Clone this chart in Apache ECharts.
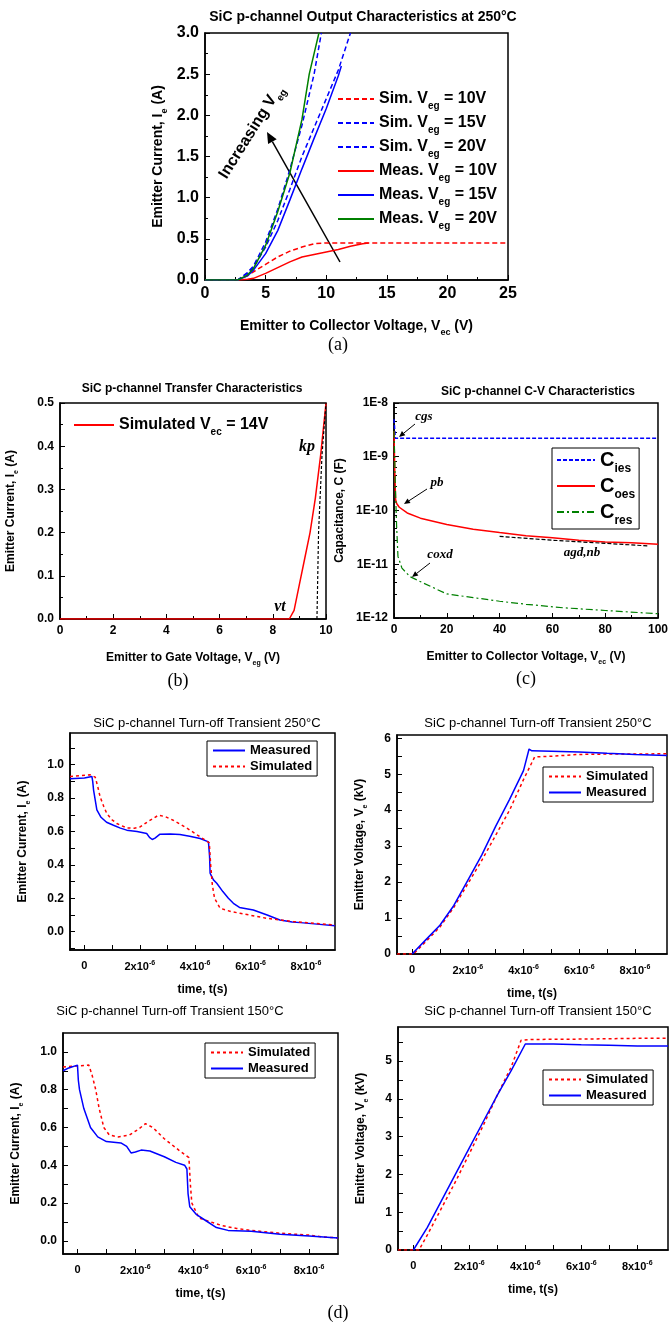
<!DOCTYPE html>
<html>
<head>
<meta charset="utf-8">
<script src="https://cdn.jsdelivr.net/npm/echarts@6/dist/echarts.min.js"></script>
<style>
  html, body { margin: 0; padding: 0; background: #fff; }
  #main { width: 671px; height: 1326px; }
</style>
</head>
<body>
<div id="main"></div>
<script>
// (a) output characteristics, [Vec, Ie]
var aSim10 = [[0,0],[2.7,0],[3.5,0.05],[4,0.1],[5,0.19],[6,0.28],[7,0.35],[8,0.4],[9,0.44],[10,0.45],[25,0.45]];
var aSim15 = [[0,0],[2.7,0],[3.5,0.08],[4,0.15],[5,0.4],[6,0.72],[7,1.1],[8,1.5],[9,1.85],[10,2.2],[11,2.55],[12,3.0]];
var aSim20 = [[0,0],[2.7,0],[3.5,0.09],[4,0.17],[5,0.46],[6,0.86],[7,1.34],[8,1.88],[9,2.5],[9.6,3.0]];
var aMeas10 = [[0,0],[2.8,0],[3.5,0.01],[4,0.02],[5,0.08],[6,0.15],[7,0.22],[8,0.28],[9,0.31],[10,0.34],[11,0.37],[12,0.41],[13,0.44],[13.5,0.45]];
var aMeas15 = [[0,0],[2.7,0],[3.5,0.05],[4,0.12],[5,0.32],[6,0.6],[7,0.97],[8,1.35],[9,1.72],[10,2.08],[11,2.48],[11.25,2.6]];
var aMeas20 = [[0,0],[2.7,0],[3.5,0.06],[4,0.14],[5,0.42],[6,0.83],[7,1.3],[8,1.95],[8.6,2.5],[9,2.75],[9.4,3.0]];
// (b) transfer characteristics, [Veg, Ie]
var bSim14 = [[0,0],[8.62,0],[8.8,0.02],[9.0,0.08],[9.2,0.14],[9.4,0.2],[9.6,0.28],[9.8,0.38],[10,0.5]];
var bKpFit = [[9.66,0],[9.72,0.2],[9.85,0.38],[10,0.5]];
// (c) C-V characteristics, [Vec, C]
var cIes = [[0,5e-9],[0.5,2.2e-9],[100,2.2e-9]];
var cOes = [[0,3e-9],[0.3,5e-10],[0.6,1.6e-10],[1,1.35e-10],[2,1.15e-10],[5,9e-11],[10,7.2e-11],[20,5.5e-11],[30,4.5e-11],[40,3.9e-11],[50,3.4e-11],[60,3.1e-11],[70,2.8e-11],[80,2.6e-11],[90,2.5e-11],[100,2.35e-11]];
var cRes = [[0,3e-9],[0.5,3e-10],[1,5e-11],[1.5,1.4e-11],[3,8.5e-12],[6,5.9e-12],[11,4.5e-12],[20,2.8e-12],[30,2.4e-12],[40,2.05e-12],[50,1.8e-12],[64,1.55e-12],[80,1.38e-12],[100,1.2e-12]];
var cAgdFit = [[40,3.3e-11],[60,2.8e-11],[80,2.45e-11],[96,2.2e-11]];
// (d) turn-off transients, time in microseconds
var d250IMeas = [[-0.52,0.916],[0.0,0.92],[0.27,0.93],[0.3,0.9],[0.33,0.85],[0.45,0.73],[0.6,0.685],[0.8,0.655],[1.05,0.637],[1.3,0.62],[1.53,0.608],[1.9,0.6],[2.25,0.588],[2.35,0.565],[2.45,0.552],[2.55,0.56],[2.73,0.584],[3.1,0.585],[3.45,0.582],[3.8,0.572],[4.18,0.558],[4.48,0.538],[4.52,0.45],[4.54,0.35],[4.6,0.33],[4.66,0.31],[4.78,0.29],[5.0,0.24],[5.2,0.2],[5.38,0.17],[5.6,0.145],[6.1,0.13],[6.6,0.1],[7.06,0.07],[7.5,0.058],[7.8,0.054],[8.4,0.045],[9.05,0.036]];
var d250ISim = [[-0.52,0.93],[0.2,0.94],[0.39,0.926],[0.48,0.87],[0.57,0.806],[0.7,0.75],[0.81,0.707],[1.0,0.67],[1.17,0.648],[1.53,0.621],[1.8,0.62],[2.01,0.627],[2.3,0.66],[2.67,0.697],[2.9,0.69],[3.21,0.667],[3.7,0.62],[4.18,0.568],[4.51,0.532],[4.56,0.4],[4.62,0.28],[4.7,0.2],[4.9,0.14],[5.3,0.12],[5.62,0.11],[6.58,0.08],[7.55,0.06],[8.3,0.05],[9.05,0.04]];
var d250VSim = [[-0.54,0],[0.05,0],[0.5,0.35],[1,0.75],[1.5,1.3],[2,1.95],[2.5,2.6],[3,3.3],[3.5,4.0],[4,4.85],[4.4,5.48],[5,5.5],[6,5.55],[7,5.56],[8,5.56],[9.15,5.57]];
var d250VMeas = [[0,0],[0.5,0.4],[1,0.8],[1.5,1.35],[2,2.05],[2.5,2.75],[3,3.55],[3.5,4.3],[4,5.1],[4.2,5.7],[4.3,5.65],[5,5.64],[6,5.62],[7,5.58],[8,5.55],[8.05,5.52],[9.15,5.52]];
var d150ISim = [[-0.5,0.92],[0.39,0.93],[0.5,0.88],[0.63,0.8],[0.75,0.7],[0.91,0.6],[1.1,0.56],[1.4,0.55],[1.8,0.56],[2.1,0.59],[2.35,0.62],[2.6,0.6],[3.0,0.54],[3.5,0.48],[3.85,0.44],[3.9,0.3],[3.95,0.2],[4.2,0.12],[4.6,0.1],[5.0,0.08],[5.5,0.065],[6,0.055],[7,0.04],[8,0.03],[8.5,0.02],[9,0.015]];
var d150IMeas = [[-0.5,0.9],[-0.3,0.915],[0,0.93],[0.03,0.85],[0.07,0.8],[0.22,0.7],[0.45,0.6],[0.7,0.55],[1.0,0.525],[1.5,0.518],[1.7,0.5],[1.85,0.465],[2.0,0.47],[2.2,0.48],[2.5,0.475],[3.0,0.445],[3.4,0.415],[3.7,0.4],[3.78,0.38],[3.82,0.25],[3.88,0.18],[4.1,0.14],[4.4,0.11],[4.8,0.07],[5.2,0.055],[6.0,0.05],[7.0,0.035],[8.0,0.025],[9.0,0.015]];
var d150VSim = [[-0.55,0],[0.2,0],[0.5,0.4],[1,1.1],[1.5,1.8],[2,2.55],[2.5,3.3],[3,4.1],[3.5,4.85],[3.85,5.55],[4.2,5.57],[6,5.58],[8,5.6],[9.1,5.6]];
var d150VMeas = [[0,0],[0.5,0.6],[1,1.3],[1.5,2.0],[2,2.7],[2.5,3.4],[3,4.1],[3.5,4.75],[4.0,5.45],[5,5.45],[6,5.43],[7,5.42],[8,5.4],[9.1,5.4]];

var dTimeLabels = [0, 2, 4, 6, 8];
var dTimeTicks = [0, 1, 2, 3, 4, 5, 6, 7, 8];

var SANS = 'Liberation Sans, Arial, sans-serif';
var SERIF = 'Liberation Serif, Times New Roman, serif';
var RED = '#ff0000', BLUE = '#0000ff', GREEN = '#008000';

function rich(size, weight) {
  return {
    sub: { fontSize: Math.round(size * 0.62), fontWeight: weight, fontFamily: SANS, verticalAlign: 'bottom', lineHeight: Math.round(size * 1.5) },
    sup: { fontSize: Math.round(size * 0.62), fontWeight: weight, fontFamily: SANS, verticalAlign: 'top', lineHeight: Math.round(size * 1.3) }
  };
}

function line(name, data, gi, color, type, width, z) {
  return {
    type: 'line', name: name, data: data, xAxisIndex: gi, yAxisIndex: gi,
    symbol: 'none', animation: false, z: z || 2,
    lineStyle: { color: color, type: type, width: width || 1.5 },
    itemStyle: { color: color }
  };
}

function axis(gi, o) {
  var size = o.size || 12;
  var ax = {
    gridIndex: gi, type: o.type || 'value', min: o.min, max: o.max,
    position: o.pos, splitLine: { show: false },
    axisLine: { show: true, onZero: false, lineStyle: { color: '#000', width: o.lw || 1.5 } },
    axisTick: { show: true, inside: true, length: 5, lineStyle: { color: '#000', width: 1 } },
    axisLabel: { color: '#000', fontSize: size, fontWeight: 'bold', fontFamily: SANS, margin: o.margin || 6 },
    name: o.name, nameLocation: 'middle', nameGap: o.gap,
    nameRotate: o.pos === 'left' ? 90 : 0,
    nameTextStyle: { color: '#000', fontSize: o.nameSize || 12, fontWeight: 'bold', fontFamily: SANS, rich: rich(o.nameSize || 12, 'bold') }
  };
  if (o.interval != null) ax.interval = o.interval;
  if (o.minor) ax.minorTick = { show: true, splitNumber: o.minor, length: 3, lineStyle: { color: '#000', width: 1 } };
  if (o.fmt) ax.axisLabel.formatter = o.fmt;
  if (o.labels) ax.axisLabel.customValues = o.labels;
  if (o.ticks) ax.axisTick.customValues = o.ticks;
  ax.axisLabel.rich = rich(size, 'bold');
  return ax;
}

function timeFmt(v) { return v === 0 ? '0' : v + 'x10{sup|-6}'; }
function oneDp(v) { return v.toFixed(1); }

var grids = [
  { left: 205, top: 33, width: 303, height: 247 },
  { left: 60, top: 403, width: 266, height: 216 },
  { left: 394, top: 403, width: 266, height: 215 },
  { left: 70, top: 733, width: 265, height: 217 },
  { left: 397, top: 735, width: 270, height: 219 },
  { left: 63, top: 1033, width: 275, height: 221 },
  { left: 398, top: 1027, width: 270, height: 223 }
].map(function (g) {
  g.show = true; g.borderColor = '#000'; g.borderWidth = 1.5; g.backgroundColor = 'transparent';
  return g;
});

var xAxes = [
  axis(0, { pos: 'bottom', min: 0, max: 25, interval: 5, minor: 2, size: 16, name: 'Emitter to Collector Voltage, V{sub|ec} (V)', nameSize: 14, gap: 36 }),
  axis(1, { pos: 'bottom', min: 0, max: 10, interval: 2, minor: 2, size: 12, name: 'Emitter to Gate Voltage, V{sub|eg} (V)', nameSize: 12, gap: 30 }),
  axis(2, { pos: 'bottom', min: 0, max: 100, interval: 20, minor: 2, size: 12, name: 'Emitter to Collector Voltage, V{sub|ec} (V)', nameSize: 12, gap: 30 }),
  axis(3, { pos: 'bottom', min: -0.52, max: 9.05, labels: dTimeLabels, ticks: dTimeTicks, fmt: timeFmt, size: 11, name: 'time, t(s)', nameSize: 12, gap: 34, margin: 10 }),
  axis(4, { pos: 'bottom', min: -0.54, max: 9.15, labels: dTimeLabels, ticks: dTimeTicks, fmt: timeFmt, size: 11, name: 'time, t(s)', nameSize: 12, gap: 34, margin: 10 }),
  axis(5, { pos: 'bottom', min: -0.5, max: 9.0, labels: dTimeLabels, ticks: dTimeTicks, fmt: timeFmt, size: 11, name: 'time, t(s)', nameSize: 12, gap: 34, margin: 10 }),
  axis(6, { pos: 'bottom', min: -0.55, max: 9.1, labels: dTimeLabels, ticks: dTimeTicks, fmt: timeFmt, size: 11, name: 'time, t(s)', nameSize: 12, gap: 34, margin: 10 })
];

var yAxes = [
  axis(0, { pos: 'left', min: 0, max: 3, interval: 0.5, minor: 2, size: 16, fmt: oneDp, name: 'Emitter Current, I{sub|e} (A)', nameSize: 14, gap: 36 }),
  axis(1, { pos: 'left', min: 0, max: 0.5, interval: 0.1, minor: 2, size: 12, fmt: oneDp, name: 'Emitter Current, I{sub|e} (A)', nameSize: 12, gap: 40 }),
  axis(2, { pos: 'left', type: 'log', min: 1e-12, max: 1e-8, size: 12, fmt: function (v) { return '1E' + Math.round(Math.log10(v)); }, name: 'Capacitance, C (F)', nameSize: 12, gap: 48 }),
  axis(3, { pos: 'left', min: -0.11, max: 1.19, labels: [0, 0.2, 0.4, 0.6, 0.8, 1.0], ticks: [-0.1, 0, 0.1, 0.2, 0.3, 0.4, 0.5, 0.6, 0.7, 0.8, 0.9, 1.0, 1.1], fmt: oneDp, size: 12, name: 'Emitter Current, I{sub|e} (A)', nameSize: 12, gap: 38 }),
  axis(4, { pos: 'left', min: 0, max: 6.09, labels: [0, 1, 2, 3, 4, 5, 6], ticks: [0, 0.5, 1, 1.5, 2, 2.5, 3, 3.5, 4, 4.5, 5, 5.5, 6], size: 12, name: 'Emitter Voltage, V{sub|e} (kV)', nameSize: 12, gap: 28 }),
  axis(5, { pos: 'left', min: -0.07, max: 1.1, labels: [0, 0.2, 0.4, 0.6, 0.8, 1.0], ticks: [0, 0.1, 0.2, 0.3, 0.4, 0.5, 0.6, 0.7, 0.8, 0.9, 1.0], fmt: oneDp, size: 12, name: 'Emitter Current, I{sub|e} (A)', nameSize: 12, gap: 38 }),
  axis(6, { pos: 'left', min: 0, max: 5.9, labels: [0, 1, 2, 3, 4, 5], ticks: [0, 0.5, 1, 1.5, 2, 2.5, 3, 3.5, 4, 4.5, 5, 5.5], size: 12, name: 'Emitter Voltage, V{sub|e} (kV)', nameSize: 12, gap: 28 })
];
yAxes[2].minorTick = { show: true, splitNumber: 5, length: 3, lineStyle: { color: '#000', width: 1 } };

var DASH = [5, 3], DOT = [3, 3], DASHDOT = [7, 3, 2, 3];
var series = [
  line('Sim10', aSim10, 0, RED, DASH, 1.5),
  line('Sim15', aSim15, 0, BLUE, DASH, 1.5),
  line('Sim20', aSim20, 0, BLUE, DASH, 1.5),
  line('Meas10', aMeas10, 0, RED, 'solid', 1.5),
  line('Meas15', aMeas15, 0, BLUE, 'solid', 1.5),
  line('Meas20', aMeas20, 0, GREEN, 'solid', 1.5),
  line('bSim', bSim14, 1, RED, 'solid', 1.5),
  line('bKp', bKpFit, 1, '#000', [3, 2], 1.2),
  line('Cies', cIes, 2, BLUE, [4, 2], 1.5),
  line('Coes', cOes, 2, RED, 'solid', 1.5),
  line('Cres', cRes, 2, GREEN, DASHDOT, 1.2),
  line('cAgd', cAgdFit, 2, '#000', [4, 2], 1.2),
  line('Measured', d250IMeas, 3, BLUE, 'solid', 1.5),
  line('Simulated', d250ISim, 3, RED, DOT, 1.5),
  line('Simulated', d250VSim, 4, RED, DOT, 1.5),
  line('Measured', d250VMeas, 4, BLUE, 'solid', 1.5),
  line('Simulated', d150ISim, 5, RED, DOT, 1.5),
  line('Measured', d150IMeas, 5, BLUE, 'solid', 1.5),
  line('Simulated', d150VSim, 6, RED, DOT, 1.5),
  line('Measured', d150VMeas, 6, BLUE, 'solid', 1.5)
];

var legendNames = {
  Sim10: 'Sim. V{sub|eg} = 10V', Sim15: 'Sim. V{sub|eg} = 15V', Sim20: 'Sim. V{sub|eg} = 20V',
  Meas10: 'Meas. V{sub|eg} = 10V', Meas15: 'Meas. V{sub|eg} = 15V', Meas20: 'Meas. V{sub|eg} = 20V',
  bSim: 'Simulated V{sub|ec} = 14V',
  Cies: 'C{sub|ies}', Coes: 'C{sub|oes}', Cres: 'C{sub|res}'
};
function legendFmt(n) { return legendNames[n] || n; }

function legend(o) {
  var size = o.size || 13;
  return {
    orient: 'vertical', left: o.left, top: o.top, data: o.data,
    itemWidth: o.itemWidth || 34, itemHeight: 10, itemGap: o.gap || 4,
    padding: o.padding || [3, 5], selectedMode: false,
    borderColor: o.border ? '#000' : 'transparent', borderWidth: o.border ? 1 : 0,
    itemStyle: { opacity: 0 },
    formatter: legendFmt,
    textStyle: { color: '#000', fontSize: size, fontWeight: 'bold', fontFamily: SANS, rich: rich(size, 'bold') }
  };
}

var legends = [
  legend({ left: 332, top: 88, data: ['Sim10', 'Sim15', 'Sim20', 'Meas10', 'Meas15', 'Meas20'], size: 16, itemWidth: 36, gap: 4 }),
  legend({ left: 68, top: 414, data: ['bSim'], size: 16, itemWidth: 40 }),
  legend({ left: 552, top: 448, data: ['Cies', 'Coes', 'Cres'], size: 20, itemWidth: 38, gap: 1, border: true, padding: [2, 4] }),
  legend({ left: 207, top: 741, data: ['Measured', 'Simulated'], size: 13, itemWidth: 32, gap: 3, border: true }),
  legend({ left: 543, top: 767, data: ['Simulated', 'Measured'], size: 13, itemWidth: 32, gap: 3, border: true }),
  legend({ left: 205, top: 1043, data: ['Simulated', 'Measured'], size: 13, itemWidth: 32, gap: 3, border: true }),
  legend({ left: 543, top: 1070, data: ['Simulated', 'Measured'], size: 13, itemWidth: 32, gap: 3, border: true })
];

function titleAt(text, x, y, size, weight) {
  return { text: text, left: x, top: y, textAlign: 'center',
    textStyle: { fontSize: size, fontWeight: weight, color: '#000', fontFamily: SANS } };
}
var titles = [
  titleAt('SiC p-channel Output Characteristics at 250°C', 358, 5, 14, 'bold'),
  titleAt('SiC p-channel Transfer Characteristics', 187, 378, 12, 'bold'),
  titleAt('SiC p-channel C-V Characteristics', 533, 381, 12, 'bold'),
  titleAt('SiC p-channel Turn-off Transient 250°C', 202, 712, 13, 'normal'),
  titleAt('SiC p-channel Turn-off Transient 250°C', 533, 712, 13, 'normal'),
  titleAt('SiC p-channel Turn-off Transient 150°C', 165, 1000, 13, 'normal'),
  titleAt('SiC p-channel Turn-off Transient 150°C', 533, 1000, 13, 'normal')
];

function text(str, x, y, size, style, family, rot) {
  return { type: 'text', x: x, y: y, rotation: rot || 0, z: 20,
    style: { text: str, fill: '#000', font: style + ' ' + size + 'px ' + family, align: 'center', verticalAlign: 'middle',
      rich: rich(size, 'bold') } };
}
function arrow(x1, y1, x2, y2, w, head) {
  var a = Math.atan2(y2 - y1, x2 - x1), h = head || 8, s = h * 0.45;
  var bx = x2 - h * Math.cos(a), by = y2 - h * Math.sin(a);
  return { type: 'group', z: 20, children: [
    { type: 'line', shape: { x1: x1, y1: y1, x2: bx, y2: by }, style: { stroke: '#000', lineWidth: w } },
    { type: 'polygon', shape: { points: [[x2, y2], [bx + s * Math.sin(a), by - s * Math.cos(a)], [bx - s * Math.sin(a), by + s * Math.cos(a)]] }, style: { fill: '#000' } }
  ] };
}

var graphics = [
  arrow(340, 262, 267, 132, 1.5, 11),
  { type: 'text', x: 251, y: 132, rotation: 58 * Math.PI / 180, z: 20,
    style: { text: 'Increasing V{sub|eg}', fill: '#000', font: 'bold 16px ' + SANS, align: 'center', verticalAlign: 'middle', rich: rich(16, 'bold') } },
  text('(a)', 338, 345, 18, 'normal', SERIF),
  text('(b)', 178, 681, 18, 'normal', SERIF),
  text('(c)', 526, 679, 18, 'normal', SERIF),
  text('(d)', 338, 1313, 18, 'normal', SERIF),
  text('kp', 307, 447, 16, 'italic bold', SERIF),
  text('vt', 280, 607, 16, 'italic bold', SERIF),
  text('cgs', 424, 417, 13, 'italic bold', SERIF),
  text('pb', 437, 483, 13, 'italic bold', SERIF),
  text('coxd', 440, 555, 13, 'italic bold', SERIF),
  text('agd,nb', 582, 553, 13, 'italic bold', SERIF),
  arrow(415, 424, 399, 437, 1, 6),
  arrow(427, 489, 404, 504, 1, 6),
  arrow(430, 563, 412, 577, 1, 6)
];

var chart = echarts.init(document.getElementById('main'), null, { renderer: 'canvas' });
chart.setOption({
  backgroundColor: '#fff',
  animation: false,
  title: titles,
  grid: grids,
  xAxis: xAxes,
  yAxis: yAxes,
  legend: legends,
  series: series,
  graphic: graphics
});
</script>
</body>
</html>
